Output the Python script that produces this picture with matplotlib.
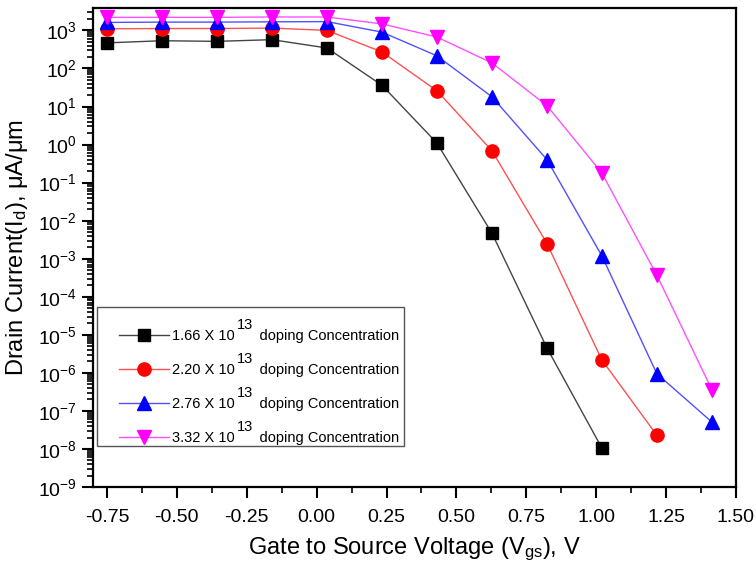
import numpy as np
import matplotlib
matplotlib.use("Agg")
import matplotlib.pyplot as plt
from matplotlib.lines import Line2D
from matplotlib.legend_handler import HandlerLine2D
from matplotlib.ticker import LogLocator, MultipleLocator, FormatStrFormatter

plt.rcParams['font.family'] = ['Liberation Sans', 'DejaVu Sans']
plt.rcParams['mathtext.fontset'] = 'custom'
plt.rcParams['mathtext.rm'] = 'Liberation Sans'
plt.rcParams['mathtext.it'] = 'Liberation Sans:italic'

# gate-source voltage (V)
vgs = [-0.75, -0.553, -0.357, -0.16, 0.037, 0.234, 0.43, 0.627, 0.824, 1.02, 1.217, 1.414]

# drain current (uA/um) for each doping concentration
id_166 = [470, 535, 515, 570, 345, 36, 1.1, 4.7e-3, 4.5e-6, 1.07e-8]
id_220 = [1100, 1120, 1120, 1150, 1000, 270, 26, 0.69, 2.5e-3, 2.2e-6, 2.3e-8]
id_276 = [1620, 1650, 1650, 1680, 1700, 900, 215, 18, 0.4, 1.2e-3, 9.5e-7, 5.1e-8]
id_332 = [2200, 2200, 2200, 2250, 2250, 1480, 670, 140, 10.5, 0.18, 3.7e-4, 3.6e-7]

conc = ["1.66", "2.20", "2.76", "3.32"]
exponent = "13"
prefixes = [c + " X 10" for c in conc]
labels = [p + "      doping Concentration " for p in prefixes]

fig = plt.figure(figsize=(7.56, 5.67), dpi=100)
ax = fig.add_axes([0.123, 0.141, 0.8505, 0.845])

series = [(id_166, 's', 'black', '#444444', 8.5),
          (id_220, 'o', 'red', '#ff5050', 9.5),
          (id_276, '^', 'blue', '#5050ff', 10),
          (id_332, 'v', 'magenta', '#ff50ff', 10)]

for (vals, mk, mc, lc, ms), lab in zip(series, labels):
    ax.plot(vgs[:len(vals)], vals, color=lc, lw=1.0, marker=mk, ms=ms,
            mfc=mc, mec=mc, label=lab)

ax.set_yscale('log')
ax.set_xlim(-0.8, 1.5)
ax.set_ylim(1e-9, 10**3.59)
ax.xaxis.set_major_locator(MultipleLocator(0.25))
ax.xaxis.set_minor_locator(MultipleLocator(0.125))
ax.xaxis.set_major_formatter(FormatStrFormatter('%.2f'))
ax.yaxis.set_major_locator(LogLocator(base=10, numticks=20))
ax.yaxis.set_minor_locator(LogLocator(base=10, subs=np.arange(2, 10), numticks=20))

ax.tick_params(which='major', direction='out', length=8, width=1.5, labelsize=14,
               top=False, right=False)
ax.tick_params(which='minor', direction='out', length=4.5, width=1.2,
               top=False, right=False)
ax.tick_params(axis='x', pad=8)
for s in ax.spines.values():
    s.set_linewidth(1.6)

ax.set_xlabel(r"Gate to Source Voltage (V$_{\rm gs}$), V", fontsize=17, labelpad=7)
ax.set_ylabel(r"Drain Current(I$_{\rm d}$), μA/μm", fontsize=17, labelpad=6)

leg = ax.legend(loc='upper left', bbox_to_anchor=(0.006, 0.376), fontsize=10.5,
                title=" ", title_fontsize=1,
                fancybox=False, framealpha=1, edgecolor='#555555',
                handlelength=4.93, borderpad=0.05, labelspacing=1.38,
                handletextpad=0.15, borderaxespad=0,
                handler_map={Line2D: HandlerLine2D(xpad=1.44)})
leg.get_frame().set_linewidth(1.0)

# raised exponent drawn after "10", like the original legend
fig.canvas.draw()
rend = fig.canvas.get_renderer()
W, H = fig.bbox.width, fig.bbox.height
for t, p in zip(leg.get_texts(), prefixes):
    bb = t.get_window_extent(rend)
    fp = t.get_fontproperties()
    w, _, _ = rend.get_text_width_height_descent(p, fp, ismath=False)
    _, _, d = rend.get_text_width_height_descent(t.get_text(), fp, ismath=False)
    fig.text((bb.x0 + w + 2) / W, (bb.y0 + d + 11) / H, exponent,
             fontsize=10.5, ha='left', va='baseline')

fig.savefig("out.png", dpi=100)
